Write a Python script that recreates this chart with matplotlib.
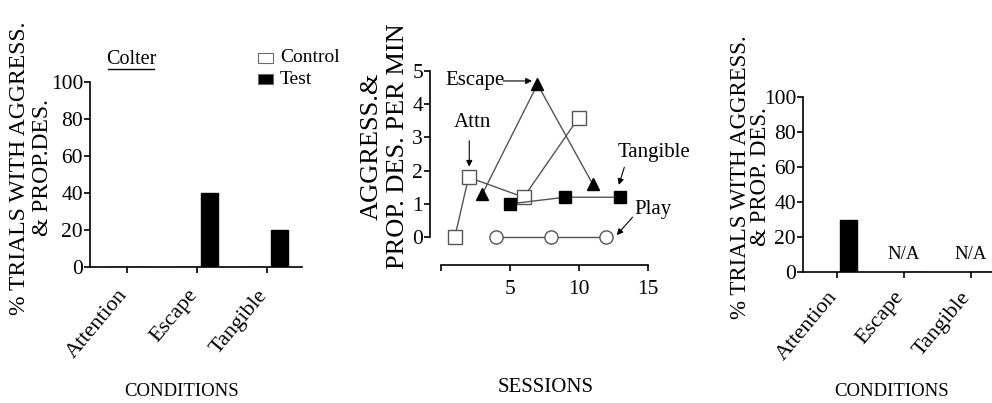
import matplotlib
matplotlib.use("Agg")
import matplotlib.pyplot as plt
import matplotlib.transforms as mtransforms
import numpy as np

plt.rcParams["font.family"] = ["Liberation Serif", "DejaVu Serif"]
plt.rcParams["axes.linewidth"] = 1.2

# Left panel: functional analysis (Colter)
conditions = ["Attention", "Escape", "Tangible"]
control_pct = [0, 0, 0]
test_pct = [0, 40, 20]

# Middle panel: session-by-session rates
attn_sessions = [1, 2, 6, 10]
attn_rate = [0, 1.8, 1.2, 3.6]
escape_sessions = [3, 7, 11]
escape_rate = [1.3, 4.6, 1.6]
tangible_sessions = [5, 9, 13]
tangible_rate = [1.0, 1.2, 1.2]
play_sessions = [4, 8, 12]
play_rate = [0, 0, 0]

# Right panel: follow-up test
test2_pct = [30, 0, 0]
na_labels = ["", "N/A", "N/A"]

W, H = 992, 403
fig = plt.figure(figsize=(W / 100, H / 100), dpi=100)


def px_axes(x0, y0, x1, y1):
    return fig.add_axes([x0 / W, 1 - y1 / H, (x1 - x0) / W, (y1 - y0) / H])


def style_bar_axes(ax, xpos, pad):
    for s in ("top", "right"):
        ax.spines[s].set_visible(False)
    ax.set_ylim(0, 100)
    ax.set_yticks([0, 20, 40, 60, 80, 100])
    ax.tick_params(axis="y", labelsize=15.5, length=4, width=1.2, pad=1)
    ax.tick_params(axis="x", labelsize=16, length=4, width=1.2, pad=pad)
    ax.set_xticks(xpos)
    ax.set_xticklabels(conditions, rotation=50, ha="right", va="center",
                       rotation_mode="anchor")
    # nudge the slanted labels a little left so they end under the ticks
    shift = mtransforms.ScaledTranslation(-3 / 100, 0, fig.dpi_scale_trans)
    for lab in ax.get_xticklabels():
        lab.set_transform(lab.get_transform() + shift)


# ---- left panel
x = np.arange(len(conditions))
bw = 0.25
ax1 = px_axes(90, 82, 302, 267)
ax1.bar(x - 0.18, control_pct, bw, color="white", edgecolor="black", lw=1.0)
ax1.bar(x + 0.18, test_pct, bw, color="black", edgecolor="black", lw=1.0)
ax1.set_xlim(-0.53, 2.5)
style_bar_axes(ax1, x, pad=14)
fig.text(20 / W, 1 - 168 / H, "% TRIALS WITH AGGRESS.", rotation=90,
         ha="center", va="center", fontsize=17)
fig.text(43 / W, 1 - 168 / H, "& PROP.DES.", rotation=90,
         ha="center", va="center", fontsize=17)
fig.text(131 / W, 1 - 59 / H, "Colter", ha="center", va="center", fontsize=14.5)
fig.add_artist(plt.Line2D([108 / W, 154 / W], [1 - 69 / H, 1 - 69 / H],
                          color="black", lw=1.0))
leg_items = [("Control", "white"), ("Test", "black")]
for i, (name, col) in enumerate(leg_items):
    yc = 58 + i * 21
    fig.add_artist(plt.Rectangle((258 / W, 1 - (yc + 5) / H), 15 / W, 10 / H,
                                 facecolor=col, edgecolor="dimgray", lw=0.8))
    fig.text(280 / W, 1 - yc / H, name, ha="left", va="center", fontsize=14)
fig.text(182 / W, 1 - 391 / H, "CONDITIONS", ha="center", va="center", fontsize=13.5)

# ---- middle panel
ax2 = px_axes(430, 71, 656, 265)
line_c = "#555555"
ax2.plot(attn_sessions, attn_rate, "-s", color=line_c, lw=1.0, ms=9.5,
         mfc="white", mec="#555555", mew=1.0)
ax2.plot(escape_sessions, escape_rate, "-^", color=line_c, lw=1.0, ms=9,
         mfc="black", mec="black")
ax2.plot(tangible_sessions, tangible_rate, "-s", color=line_c, lw=1.0, ms=9,
         mfc="black", mec="black")
ax2.plot(play_sessions, play_rate, "-o", color=line_c, lw=1.0, ms=9.5,
         mfc="white", mec="#555555", mew=1.0)
ax2.set_xlim(-0.8, 15.6)
ax2.set_ylim(-0.84, 5.0)
for s in ("top", "right"):
    ax2.spines[s].set_visible(False)
ax2.spines["left"].set_bounds(0, 5)
ax2.spines["bottom"].set_bounds(0, 15)
ax2.set_xticks([0, 5, 10, 15])
ax2.set_xticklabels(["", "5", "10", "15"])
ax2.set_yticks([0, 1, 2, 3, 4, 5])
ax2.tick_params(axis="y", labelsize=15.5, length=4, width=1.2, pad=1)
ax2.tick_params(axis="x", labelsize=15.5, length=4, width=1.2, pad=7)

arrow = dict(arrowstyle="-|>", color="black", lw=0.8, mutation_scale=9,
             shrinkA=0, shrinkB=0)
ax2.text(0.3, 4.7, "Escape", fontsize=15, va="center", ha="left")
ax2.annotate("", xy=(6.6, 4.7), xytext=(4.5, 4.7), arrowprops=arrow)
ax2.text(2.3, 3.46, "Attn", fontsize=15, va="center", ha="center")
ax2.annotate("", xy=(2.05, 2.12), xytext=(2.05, 2.9), arrowprops=arrow)
ax2.text(12.8, 2.56, "Tangible", fontsize=15, va="center", ha="left")
ax2.annotate("", xy=(12.9, 1.57), xytext=(13.3, 2.1), arrowprops=arrow)
ax2.text(14.05, 0.84, "Play", fontsize=15, va="center", ha="left")
ax2.annotate("", xy=(12.75, 0.06), xytext=(13.9, 0.6), arrowprops=arrow)
fig.text(372 / W, 1 - 146 / H, "AGGRESS.&", rotation=90,
         ha="center", va="center", fontsize=19)
fig.text(398 / W, 1 - 146 / H, "PROP. DES. PER MIN", rotation=90,
         ha="center", va="center", fontsize=19)
fig.text(546 / W, 1 - 388 / H, "SESSIONS", ha="center", va="center", fontsize=15)

# ---- right panel
ax3 = px_axes(803, 97, 1004, 272)
ax3.bar(x + 0.17, test2_pct, bw, color="black", edgecolor="black", lw=1.0)
ax3.set_xlim(-0.51, 2.5)
style_bar_axes(ax3, x, pad=12)
for xi, lab in zip(x, na_labels):
    ax3.text(xi, 5, lab, ha="center", va="bottom", fontsize=13.5)
fig.text(740 / W, 1 - 177 / H, "% TRIALS WITH AGGRESS.", rotation=90,
         ha="center", va="center", fontsize=16.5)
fig.text(760 / W, 1 - 177 / H, "& PROP. DES.", rotation=90,
         ha="center", va="center", fontsize=16.5)
fig.text(892 / W, 1 - 392 / H, "CONDITIONS", ha="center", va="center", fontsize=13.5)

fig.savefig("out.png", dpi=100)
